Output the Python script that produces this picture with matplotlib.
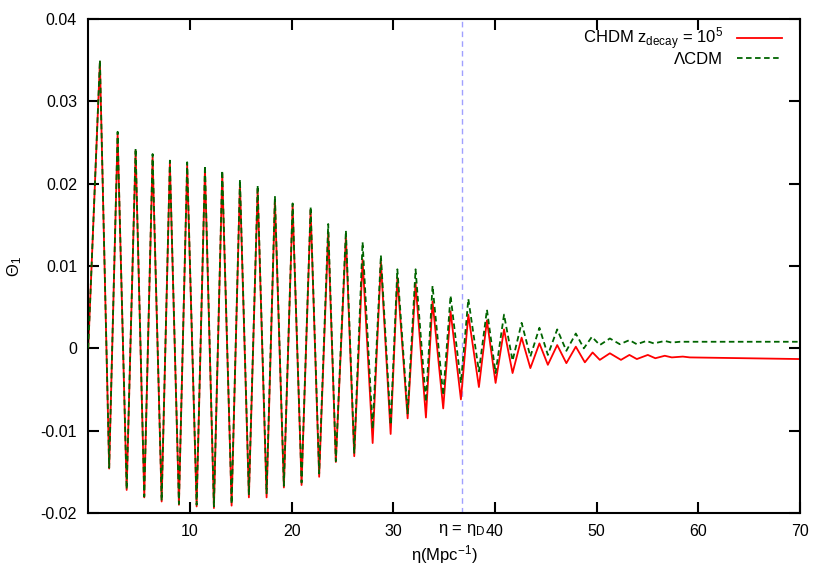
import numpy as np
import matplotlib
matplotlib.use('Agg')
import matplotlib.pyplot as plt

plt.rcParams['font.family'] = ['Liberation Sans', 'DejaVu Sans']
plt.rcParams['mathtext.fontset'] = 'custom'
plt.rcParams['mathtext.rm'] = 'Liberation Sans'
plt.rcParams['mathtext.it'] = 'Liberation Sans'
plt.rcParams['lines.scale_dashes'] = False

# peak / trough positions
peak_x = [1.15, 2.89, 4.66, 6.33, 8.03, 9.73, 11.48, 13.18, 14.92, 16.66, 18.36, 20.10, 21.87,
          23.60, 25.34, 26.98, 28.78, 30.40, 32.19, 33.86, 35.63, 37.38, 39.21, 40.89, 42.62,
          44.37, 46.12]
trough_x = [2.06, 3.78, 5.51, 7.22, 8.92, 10.66, 12.36, 14.10, 15.80, 17.54, 19.24, 20.98, 22.71,
            24.35, 26.16, 27.97, 29.74, 31.41, 33.21, 34.91, 36.65, 38.42, 40.06, 41.73, 43.48,
            45.20, 47.02]

chdm_peaks = [0.0348, 0.0260, 0.0240, 0.0232, 0.0225, 0.0222, 0.0218, 0.0212, 0.0200, 0.0193,
              0.0180, 0.0174, 0.0168, 0.0141, 0.0135, 0.0108, 0.0105, 0.0086, 0.0079, 0.0057,
              0.0045, 0.0041, 0.0034, 0.0023, 0.0013, 0.0006, 0.0004]
chdm_troughs = [-0.0146, -0.0172, -0.0181, -0.0186, -0.0190, -0.0192, -0.0194, -0.0191, -0.0181,
                -0.0181, -0.0169, -0.0166, -0.0156, -0.0138, -0.0131, -0.0115, -0.0104, -0.0085,
                -0.0084, -0.0073, -0.0062, -0.0047, -0.0042, -0.0030, -0.0024, -0.0020, -0.0018]
lcdm_peaks = [0.0350, 0.0263, 0.0243, 0.0236, 0.0228, 0.0226, 0.0222, 0.0216, 0.0205, 0.0198,
              0.0185, 0.0176, 0.0172, 0.0151, 0.0143, 0.0129, 0.0113, 0.0096, 0.0096, 0.0076,
              0.0064, 0.0060, 0.0047, 0.0041, 0.0031, 0.0025, 0.0023]
lcdm_troughs = [-0.0145, -0.0171, -0.0180, -0.0185, -0.0189, -0.0190, -0.0192, -0.0189, -0.0178,
                -0.0176, -0.0167, -0.0163, -0.0152, -0.0137, -0.0127, -0.0098, -0.0093, -0.0079,
                -0.0065, -0.0057, -0.0042, -0.0028, -0.0030, -0.0015, -0.0010, -0.0008, -0.0003]

# small wiggles in the tail
chdm_tail_x = [47.95, 48.84, 49.60, 50.31, 51.30, 52.39, 53.22, 53.95, 55.03, 55.77, 56.70,
               57.39, 58.47, 59.16, 70.0]
chdm_tail_y = [0.0002, -0.0017, -0.0005, -0.0014, -0.0006, -0.0014, -0.0008, -0.0013, -0.0008,
               -0.0012, -0.0009, -0.0011, -0.0010, -0.0011, -0.0013]
lcdm_tail_x = [47.95, 48.74, 49.53, 50.31, 51.30, 52.28, 53.22, 53.95, 54.89, 55.62, 56.70,
               57.39, 58.18, 60.14, 70.0]
lcdm_tail_y = [0.0018, 0.0000, 0.0014, 0.0004, 0.0012, 0.0005, 0.0010, 0.0005, 0.0009, 0.0006,
               0.0009, 0.0007, 0.0008, 0.0008, 0.0008]

eta_D = 36.75
x_ticks = [10, 20, 30, 40, 50, 60, 70]
y_ticks = [-0.02, -0.01, 0, 0.01, 0.02, 0.03, 0.04]
y_labels = ['-0.02', '-0.01', '0', '0.01', '0.02', '0.03', '0.04']


def build(peaks, troughs, tail_x, tail_y):
    xs = [0.0] + [v for pair in zip(peak_x, trough_x) for v in pair] + tail_x
    ys = [0.0] + [v for pair in zip(peaks, troughs) for v in pair] + tail_y
    return np.array(xs), np.array(ys)


fig = plt.figure(figsize=(8.3, 5.81), dpi=100)
ax = fig.add_axes([0.1063, 0.117, 0.8576, 0.8503])

x1, y1 = build(chdm_peaks, chdm_troughs, chdm_tail_x, chdm_tail_y)
x2, y2 = build(lcdm_peaks, lcdm_troughs, lcdm_tail_x, lcdm_tail_y)

ax.axvline(eta_D, color='#a0a0ff', lw=1.0, linestyle=(0, (4, 3)), zorder=1)
ax.plot(x1, y1, color='red', lw=1.3, label='CHDM $\\mathrm{z_{decay}}$ = 10$^5$', zorder=2)
ax.plot(x2, y2, color='#006400', lw=1.3, linestyle=(0, (4, 2.5)), label='\u039bCDM', zorder=3)

ax.set_xlim(0, 70)
ax.set_ylim(-0.02, 0.04)
ax.set_xticks(x_ticks)
ax.set_yticks(y_ticks)
ax.set_yticklabels(y_labels)
ax.tick_params(direction='in', length=8, width=1.5, top=True, right=True, labelsize=11.5, pad=8)
for s in ax.spines.values():
    s.set_linewidth(1.5)

ax.text(eta_D, -0.0211, '\u03b7 = \u03b7$_\\mathrm{D}$', ha='center', va='top', fontsize=12)
ax.set_xlabel('\u03b7(Mpc$^{-1}$)', fontsize=12, labelpad=3)
ax.set_ylabel('\u0398$_1$', fontsize=12, labelpad=12)

ax.legend(loc='upper right', bbox_to_anchor=(0.974, 0.987), frameon=False, markerfirst=False,
          fontsize=12, handlelength=2.7, borderaxespad=0, borderpad=0, labelspacing=0.0,
          handletextpad=0.8)

fig.savefig('out.png', dpi=100)
